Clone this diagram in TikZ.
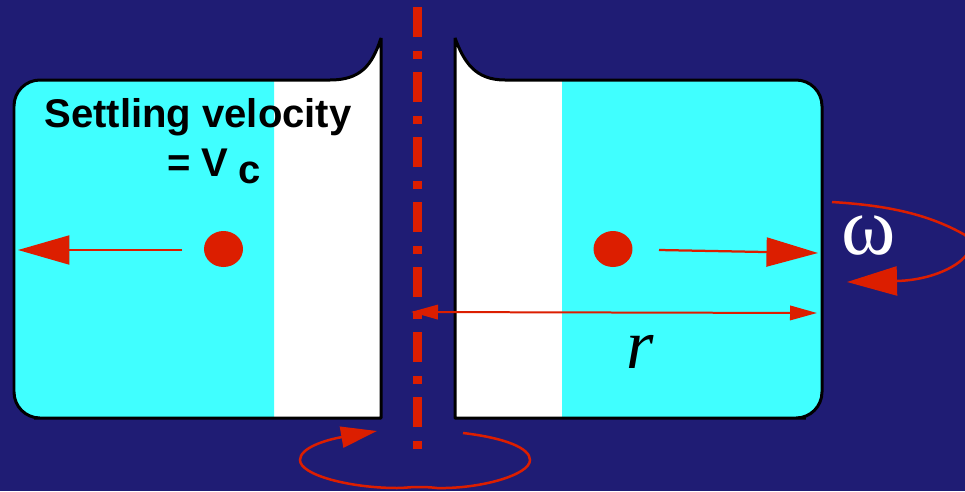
\documentclass[tikz,border=0pt]{standalone}
\usepackage{fontspec}
\setmainfont{Liberation Sans}
\newfontfamily\timesfont{Liberation Serif}
\usetikzlibrary{shapes.geometric,arrows.meta}
\definecolor{bgblue}{HTML}{1F1C74}
\definecolor{tubecyan}{HTML}{40FFFF}
\definecolor{flowred}{HTML}{DC1E00}

\begin{document}
\begin{tikzpicture}[
  x=0.02cm, y=-0.02cm,
  cell/.style={draw=black, line width=0.06cm, line join=bevel},
  particle/.style={ellipse, fill=flowred, minimum width=0.78cm, minimum height=0.72cm, inner sep=0pt},
  bigarrow/.style={draw=flowred, line width=0.045cm, -{Triangle[length=1.03cm, width=0.58cm]}},
  spin/.style={draw=flowred, line width=0.05cm},
  heading/.style={font=\bfseries\fontsize{22.8}{25}\selectfont, text=black, inner sep=0pt, anchor=base},
]

\fill[bgblue] (0,0) rectangle (965,491);
\useasboundingbox (0,0) rectangle (965,491);

% === left tube ===
\fill[white] (381,38) .. controls (372,66) and (360,80) .. (330,80) [rounded corners=0.52cm] -- (14,80) -- (14,418) -- (60,418) [sharp corners] -- (381,418) -- cycle;
\fill[tubecyan] (274,80) [rounded corners=0.52cm] -- (14,80) -- (14,418) -- (60,418) [sharp corners] -- (274,418) -- cycle;
\draw[cell] (381,38) .. controls (372,66) and (360,80) .. (330,80) [rounded corners=0.52cm] -- (14,80) -- (14,418) -- (60,418) [sharp corners] -- (381,418) -- cycle;

% === right tube ===
\fill[white] (455,38) .. controls (464,62) and (475,80) .. (505,80) [rounded corners=0.52cm] -- (822,80) -- (822,418) -- (780,418) [sharp corners] -- (455,418) -- cycle;
\fill[tubecyan] (562,80) [rounded corners=0.52cm] -- (822,80) -- (822,418) -- (780,418) [sharp corners] -- (562,418) -- cycle;
\draw[cell] (455,38) .. controls (464,62) and (475,80) .. (505,80) [rounded corners=0.52cm] -- (822,80) -- (822,418) -- (780,418) [sharp corners] -- (455,418) -- cycle;

% === axis ===
\coordinate (axistop) at (417.5,7);
\coordinate (axisbottom) at (417.5,452);
\draw[flowred, line width=0.18cm, dash pattern=on 0.6cm off 0.29cm on 0.16cm off 0.25cm] (axistop) -- (axisbottom);

% === particles ===
\node[particle] (leftdot) at (223.5,249) {};
\node[particle] (rightdot) at (613,249) {};
\coordinate (leftstart) at (182,250);
\coordinate (lefttip) at (18,250);
\coordinate (rightstart) at (659,250);
\coordinate (righttip) at (818,253);
\draw[bigarrow] (leftstart) -- (lefttip);
\draw[bigarrow] (rightstart) -- (righttip);

% === radius ===
\coordinate (raxis) at (411,312);
\coordinate (rwall) at (817,313);
\draw[draw=flowred, line width=0.04cm, {Triangle[length=0.54cm, width=0.29cm]}-{Triangle[length=0.54cm, width=0.29cm]}] (raxis) -- (rwall);
\node[font=\timesfont\itshape\fontsize{40}{44}\selectfont, text=black, inner sep=0pt, anchor=base] (rlabel) at (640,368) {r};

% === rotation, right ===
\coordinate (wstart) at (832,202);
\coordinate (wtip) at (847,282);
\draw[spin, -{Triangle[length=1cm, width=0.58cm]}] (wstart) .. controls (880,205) and (925,212) .. (965,235)
  .. controls (985,252) and (945,280) .. (wtip);
\node[font=\timesfont\fontsize{47}{49}\selectfont, text=white, inner sep=0pt] (omega) at (869,236) {ω};

% === rotation, bottom ===
\coordinate (bstart) at (463,433);
\coordinate (bdip) at (417,487);
\coordinate (btip) at (377,431);
\draw[spin] (bstart) .. controls (505,438) and (530,448) .. (530,460)
  .. controls (530,475) and (480,489) .. (437,488) .. controls (428,487) and (424,487) .. (bdip);
\draw[spin, -{Triangle[length=0.72cm, width=0.42cm]}] (bdip) .. controls (410,487) and (405,488) .. (397,488)
  .. controls (350,488) and (300,475) .. (300,460) .. controls (300,448) and (325,440) .. (btip);

% === labels ===
\node[heading] (settling) at (198,127) {Settling velocity};
\node[heading] (vlabel) at (198,176) {= V};
\node[heading] (csub) at (250,183) {c};

\end{tikzpicture}
\end{document}
